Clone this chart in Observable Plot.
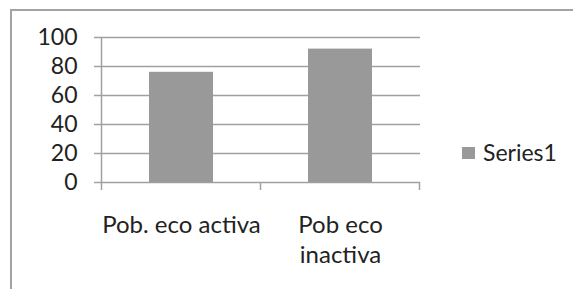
<!DOCTYPE html>
<html><head><meta charset="utf-8">
<script src="https://cdn.jsdelivr.net/npm/d3@7"></script>
<script src="https://cdn.jsdelivr.net/npm/@observablehq/plot@0.6"></script>
<style>
html,body{margin:0;padding:0;background:#fff;overflow:hidden;width:573px;height:289px;}
#wrap{position:relative;width:573px;height:289px;overflow:hidden;}
#border{position:absolute;left:10px;top:9px;width:700px;height:400px;border:2px solid #a3a3a3;box-sizing:border-box;}
#chart{position:absolute;left:0;top:0;}
#legend-swatch{position:absolute;left:462px;top:147px;width:13px;height:12px;background:#999999;}
#legend-text{position:absolute;left:483px;top:138px;font-family:Lato;font-size:23px;color:#222;white-space:nowrap;}
</style></head><body>
<div id="wrap"><div id="border"></div><div id="chart"></div><div id="legend-swatch"></div><div id="legend-text"></div></div>
<script>
const categories = ["Pob. eco activa", "Pob eco\ninactiva"];
const values = [76, 92];
const yTicks = [0, 20, 40, 60, 80, 100];
const seriesName = "Series1";

const gray = "#a0a0a0";
const barColor = "#999999";
const data = categories.map((c, i) => ({category: c, value: values[i]}));

function boundaryTicks(index, scales, vals, dim, context) {
  const {x, y} = scales;
  const gap = (x.step() - x.bandwidth()) / 2;
  const dom = x.domain();
  const xs = dom.map(c => x(c) - gap);
  xs.push(x(dom[dom.length - 1]) + x.bandwidth() + gap);
  const y0 = y(0), yTop = y(d3.max(yTicks));
  const g = d3.create("svg:g").attr("stroke", gray).attr("stroke-width", 1.5);
  xs.forEach((px, i) => {
    g.append("line").attr("x1", px).attr("x2", px)
      .attr("y1", i === 0 ? yTop : y0).attr("y2", y0 + 8);
  });
  return g.node();
}

const plot = Plot.plot({
  width: 573, height: 289,
  marginLeft: 101, marginRight: 153, marginTop: 37, marginBottom: 107,
  style: {fontFamily: "Lato", fontSize: "23px", color: "#222", background: "transparent", overflow: "visible"},
  x: {domain: categories, paddingInner: 0.6, paddingOuter: 0.3, axis: null},
  y: {domain: [0, 100], axis: null},
  marks: [
    Plot.ruleY(yTicks, {stroke: gray, strokeWidth: 1.5}),
    Plot.axisY({ticks: yTicks, tickSize: 7, tickPadding: 17, stroke: gray, strokeWidth: 1.5, fontSize: 23, label: null}),
    Plot.barY(data, {x: "category", y: "value", fill: barColor}),
    Plot.ruleX(categories, {x: d => d, render: boundaryTicks}),
    Plot.text(categories, {x: d => d, frameAnchor: "bottom", lineAnchor: "top", dy: 29, lineHeight: 1.25, fontSize: 24, fill: "#222"})
  ]
});
document.getElementById("chart").appendChild(plot);
document.getElementById("legend-text").textContent = seriesName;
</script>
</body></html>
